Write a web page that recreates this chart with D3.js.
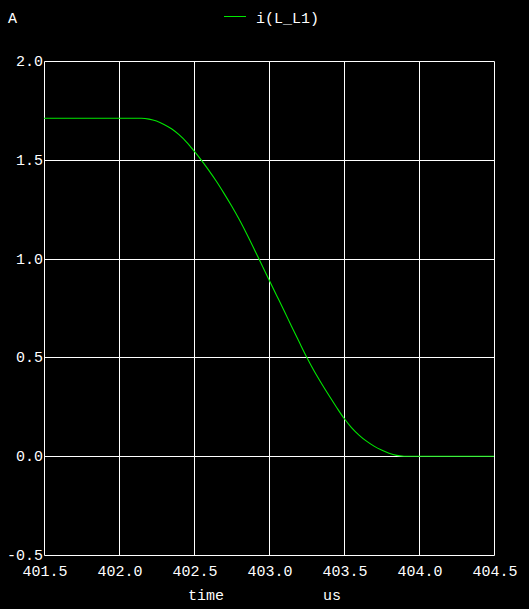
<!DOCTYPE html>
<html><head><meta charset="utf-8">
<script src="https://cdn.jsdelivr.net/npm/d3@7"></script>
<style>html,body{margin:0;padding:0;background:#000;}svg{display:block;}</style>
</head><body>
<script>
const times = [401.5, 402.0, 402.15, 402.2, 402.25, 402.3, 402.35, 402.4, 402.45, 402.5, 402.55, 402.6, 402.65, 402.7, 402.75, 402.8, 402.85, 402.9, 402.95, 403.0, 403.05, 403.1, 403.15, 403.2, 403.25, 403.3, 403.35, 403.4, 403.45, 403.5, 403.55, 403.6, 403.65, 403.7, 403.75, 403.8, 403.85, 403.9, 404.0, 404.5];
const current = [1.71, 1.71, 1.71, 1.706, 1.696, 1.679, 1.657, 1.627, 1.590, 1.545, 1.497, 1.445, 1.390, 1.330, 1.267, 1.200, 1.127, 1.050, 0.971, 0.893, 0.815, 0.737, 0.658, 0.580, 0.503, 0.432, 0.368, 0.307, 0.248, 0.192, 0.145, 0.107, 0.076, 0.051, 0.031, 0.015, 0.004, 0.0, 0.0, 0.0];
const xTicks = [401.5, 402.0, 402.5, 403.0, 403.5, 404.0, 404.5];
const yTicks = [-0.5, 0.0, 0.5, 1.0, 1.5, 2.0];
const seriesName = "i(L_L1)";
const yUnit = "A";
const xLabel = "time";
const xUnit = "us";

const W = 529, H = 609;
const font = "'Liberation Mono', 'DejaVu Sans Mono', monospace";
const svg = d3.select("body").append("svg").attr("width", W).attr("height", H)
  .style("background", "#000");
const x = d3.scaleLinear().domain([401.5, 404.5]).range([44, 494]);
const y = d3.scaleLinear().domain([-0.5, 2.0]).range([555, 61]);

const g = svg.append("g");
g.selectAll("line.vx").data(xTicks).join("line")
  .attr("x1", d => Math.round(x(d)) + 0.5).attr("x2", d => Math.round(x(d)) + 0.5)
  .attr("y1", y(2.0) + 0.5).attr("y2", y(-0.5) + 0.5)
  .attr("stroke", "#fff").attr("stroke-width", 1);
g.selectAll("line.hy").data(yTicks).join("line")
  .attr("y1", d => Math.round(y(d)) + 0.5).attr("y2", d => Math.round(y(d)) + 0.5)
  .attr("x1", x(401.5) + 0.5).attr("x2", x(404.5) + 0.5)
  .attr("stroke", "#fff").attr("stroke-width", 1);

svg.selectAll("text.yl").data(yTicks).join("text")
  .attr("x", 43).attr("y", d => Math.round(y(d)) + 5)
  .attr("text-anchor", "end").attr("fill", "#fff")
  .style("font-family", font).style("font-size", "15px")
  .text(d => d3.format(".1f")(d).replace("−", "-"));
svg.selectAll("text.xl").data(xTicks).join("text")
  .attr("x", d => x(d) + 1).attr("y", 576)
  .attr("text-anchor", "middle").attr("fill", "#fff")
  .style("font-family", font).style("font-size", "15px")
  .text(d => d3.format(".1f")(d));

svg.append("text").attr("x", 206).attr("y", 600).attr("text-anchor", "middle")
  .attr("fill", "#fff").style("font-family", font).style("font-size", "15px").text(xLabel);
svg.append("text").attr("x", 332).attr("y", 600).attr("text-anchor", "middle")
  .attr("fill", "#fff").style("font-family", font).style("font-size", "15px").text(xUnit);
svg.append("text").attr("x", 8).attr("y", 23)
  .attr("fill", "#fff").style("font-family", font).style("font-size", "15px").text(yUnit);

const green = "#00e800";
svg.append("line").attr("x1", 224).attr("x2", 246).attr("y1", 16.5).attr("y2", 16.5)
  .attr("stroke", green).attr("stroke-width", 1);
svg.append("text").attr("x", 256).attr("y", 23)
  .attr("fill", "#fff").style("font-family", font).style("font-size", "15px").text(seriesName);

const data = times.map((t, i) => [t, current[i]]);
const line = d3.line().x(d => x(d[0])).y(d => y(d[1])).curve(d3.curveMonotoneX);
svg.append("path").datum(data).attr("d", line)
  .attr("fill", "none").attr("stroke", green).attr("stroke-width", 1.1);
</script>
</body></html>
